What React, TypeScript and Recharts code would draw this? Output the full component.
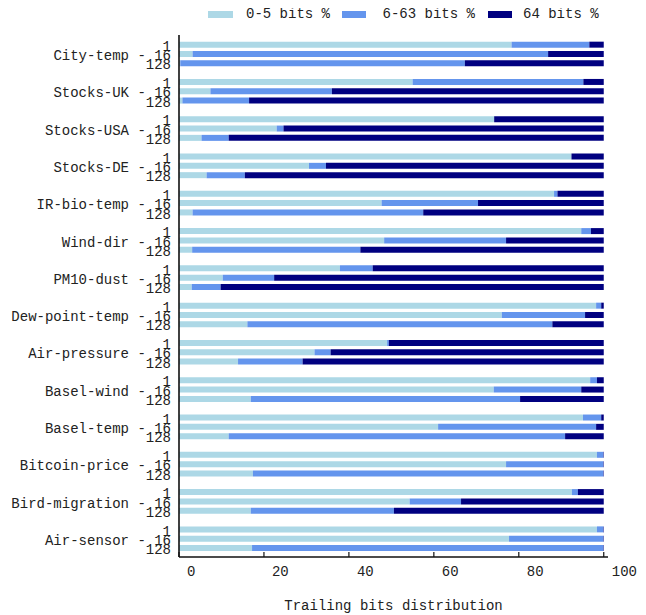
import React from 'react';
import { BarChart, Bar, XAxis, YAxis, Legend } from 'recharts';

const datasets = [
  'City-temp', 'Stocks-UK', 'Stocks-USA', 'Stocks-DE', 'IR-bio-temp', 'Wind-dir', 'PM10-dust',
  'Dew-point-temp', 'Air-pressure', 'Basel-wind', 'Basel-temp', 'Bitcoin-price', 'Bird-migration', 'Air-sensor',
];
const windows = ['1', '16', '128'];
const xTicks = [0, 20, 40, 60, 80, 100];

// 0-5 bits %
const low1 = [78.3, 55.0, 74.2, 92.4, 88.3, 94.7, 37.9, 98.2, 49.0, 96.8, 95.1, 98.4, 92.5, 98.4];
const low16 = [3.2, 7.4, 23.0, 30.6, 47.7, 48.3, 10.3, 76.0, 31.9, 74.1, 61.0, 77.0, 54.3, 77.7];
const low128 = [0.3, 0.8, 5.3, 6.5, 3.2, 3.1, 3.0, 16.1, 13.9, 16.9, 11.7, 17.4, 16.9, 17.2];
// 6-63 bits %
const mid1 = [18.3, 40.2, 0, 0, 0.8, 2.3, 7.7, 1.2, 0.4, 1.6, 4.3, 1.5, 1.4, 1.5];
const mid16 = [83.7, 28.6, 1.6, 4.0, 22.7, 28.7, 12.1, 19.6, 3.8, 20.6, 37.2, 22.9, 12.1, 22.2];
const mid128 = [67.0, 15.7, 6.4, 9.0, 54.3, 39.6, 6.8, 71.8, 15.2, 63.4, 79.2, 82.5, 33.7, 82.7];
// 64 bits %
const high1 = [3.4, 4.8, 25.8, 7.6, 10.9, 3.0, 54.4, 0.6, 50.6, 1.6, 0.6, 0.1, 6.1, 0.1];
const high16 = [13.1, 64.0, 75.4, 65.4, 29.6, 23.0, 77.6, 4.4, 64.3, 5.3, 1.8, 0.1, 33.6, 0.1];
const high128 = [32.7, 83.5, 88.3, 84.5, 42.5, 57.3, 90.2, 12.1, 70.9, 19.7, 9.1, 0.1, 49.4, 0.1];

const lowBy: Record<string, number[]> = { '1': low1, '16': low16, '128': low128 };
const midBy: Record<string, number[]> = { '1': mid1, '16': mid16, '128': mid128 };
const highBy: Record<string, number[]> = { '1': high1, '16': high16, '128': high128 };

const LIGHT = '#ADD8E6';
const MID = '#6495ED';
const DARK = '#000080';
const FONT = '"Liberation Mono", "DejaVu Sans Mono", monospace';
const TEXT = '#222';

type Row = { id: string; label: string; low?: number; mid?: number; high?: number };
const rows: Row[] = [];
datasets.forEach((name, i) => {
  if (i > 0) rows.push({ id: `gap-${i}`, label: '' });
  windows.forEach((w) => {
    rows.push({
      id: `${name}|${w}`,
      label: w === '16' ? `${name} - 16` : w,
      low: lowBy[w][i],
      mid: midBy[w][i],
      high: highBy[w][i],
    });
  });
});
const labelById: Record<string, string> = {};
rows.forEach((r) => (labelById[r.id] = r.label));

const YTick = (props: any) => {
  const { x, y, payload } = props;
  const label = labelById[payload.value] || '';
  if (!label) return null;
  return (
    <text x={x} y={y} dy={6.5} textAnchor="end" fontFamily={FONT} fontSize={14} fill={TEXT}>
      {label}
    </text>
  );
};

const XTick = (props: any) => {
  const { x, y, payload } = props;
  return (
    <g>
      <line x1={x} x2={x} y1={y} y2={y - 5} stroke="#111" strokeWidth={1.2} />
      <text x={x + 8} y={y + 14} dy={5} textAnchor="start" fontFamily={FONT} fontSize={14} fill={TEXT}>
        {payload.value}
      </text>
    </g>
  );
};

const legendItems = [
  { name: '0-5 bits %', color: LIGHT, sx: 200, tx: 238 },
  { name: '6-63 bits %', color: MID, sx: 333.5, tx: 374.5 },
  { name: '64 bits %', color: DARK, sx: 479.5, tx: 515 },
];

const LegendBox = () => (
  <div style={{ position: 'relative', width: 630, height: 27 }}>
    {legendItems.map((it) => (
      <React.Fragment key={it.name}>
        <div style={{ position: 'absolute', left: it.sx, top: 3, width: 24.5, height: 6.5, background: it.color }} />
        <span
          style={{
            position: 'absolute',
            left: it.tx,
            top: 0,
            lineHeight: '12px',
            fontSize: 14,
            fontFamily: FONT,
            color: TEXT,
            whiteSpace: 'pre',
          }}
        >
          {it.name}
        </span>
      </React.Fragment>
    ))}
  </div>
);

const axisLine = { stroke: '#111', strokeWidth: 1.6 };

export default function App() {
  return (
    <BarChart
      width={630}
      height={607}
      data={rows}
      layout="vertical"
      margin={{ top: 0, right: 30, left: 0, bottom: 0 }}
      barSize={6}
    >
      <Legend
        verticalAlign="top"
        align="left"
        height={27}
        width={630}
        wrapperStyle={{ left: 0, top: 0 }}
        content={() => <LegendBox />}
      />
      <XAxis
        type="number"
        domain={[0, 101]}
        ticks={xTicks}
        height={58}
        tickSize={0}
        tickMargin={0}
        tickLine={false}
        tick={<XTick />}
        axisLine={axisLine}
        allowDataOverflow
        label={{
          content: (p: any) => {
            const vb = p.viewBox || {};
            return (
              <text
                x={vb.x + vb.width / 2}
                y={vb.y + 48}
                dy={5}
                textAnchor="middle"
                fontFamily={FONT}
                fontSize={14}
                fill={TEXT}
              >
                Trailing bits distribution
              </text>
            );
          },
        }}
      />
      <XAxis
        xAxisId="top"
        orientation="top"
        type="number"
        domain={[0, 101]}
        height={0}
        tick={false}
        tickLine={false}
        axisLine={axisLine}
      />
      <YAxis
        type="category"
        dataKey="id"
        width={171}
        interval={0}
        tick={<YTick />}
        tickLine={false}
        tickSize={0}
        tickMargin={8}
        padding={{ top: 4.66, bottom: 4.66 }}
        axisLine={axisLine}
      />
      <YAxis
        yAxisId="right"
        orientation="right"
        type="number"
        domain={[0, 1]}
        width={0}
        tick={false}
        tickLine={false}
        axisLine={axisLine}
      />
      <Bar dataKey="low" name="0-5 bits %" stackId="s" fill={LIGHT} isAnimationActive={false} />
      <Bar dataKey="mid" name="6-63 bits %" stackId="s" fill={MID} isAnimationActive={false} />
      <Bar dataKey="high" name="64 bits %" stackId="s" fill={DARK} isAnimationActive={false} />
    </BarChart>
  );
}
